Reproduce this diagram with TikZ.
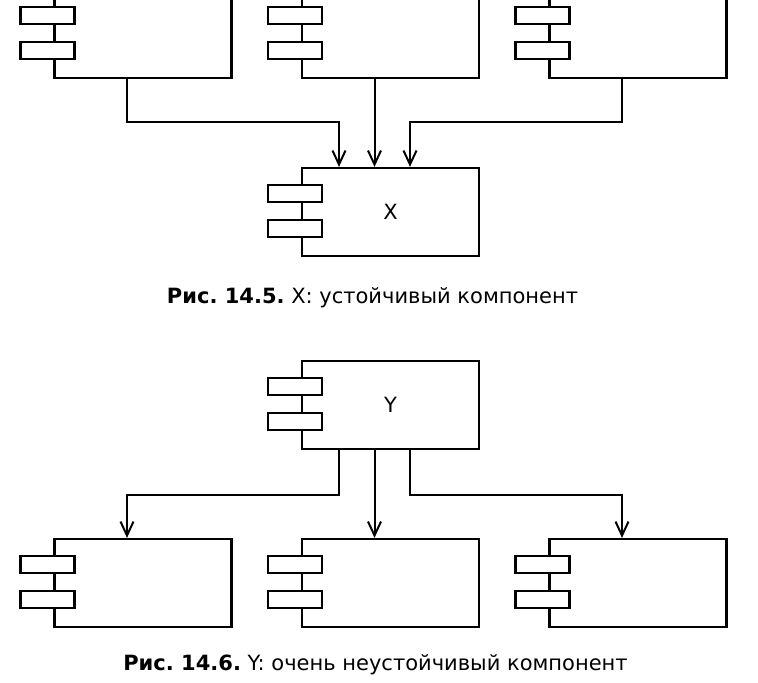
\documentclass[tikz,border=0pt]{standalone}
\usepackage{fontspec}
\setmainfont{DejaVu Sans}
\usetikzlibrary{positioning,arrows.meta}
\frenchspacing

\begin{document}
\begin{tikzpicture}[x=1pt, y=1pt, node distance={178pt},
  >={Straight Barb[length=14pt,width=13pt]},
  comp/.style = {draw, line width=2.2pt, minimum width=177pt, minimum height=88pt, inner sep=0pt, font=\fontsize{21}{24}\selectfont},
  tab/.style = {draw, fill=white, line width=2.2pt},
  conn/.style = {line width=2pt},
  caption/.style = {font=\fontsize{21}{24}\selectfont}]
\useasboundingbox (0,0) rectangle (758,683);

% upper picture
\node[comp] (2) at (390.5,649) {};
\node[comp] (1) [node distance=247.5pt, left of=2] {};
\node[comp] (3) [node distance=247.5pt, right of=2] {};
\node[comp] (X) [below of=2] {X};
\node[caption] (c1) [below of=X, node distance=86pt, xshift=-18pt] {\textbf{Рис. 14.5.} X: устойчивый компонент};

% lower picture
\node[comp] (Y) [below of=X, node distance=193pt] {Y};
\node[comp] (5) [below of=Y] {};
\node[comp] (4) [node distance=247.5pt, left of=5] {};
\node[comp] (6) [node distance=247.5pt, right of=5] {};
\node[caption] (c2) [below of=5, node distance=81.5pt, xshift=-15pt] {\textbf{Рис. 14.6.} Y: очень неустойчивый компонент};

% tabs
\foreach \n in {1,2,3,X,Y,4,5,6} {
  \draw[tab] ([xshift=-33pt,yshift=-18pt]\n.north west) rectangle ++(54,-17);
  \draw[tab] ([xshift=-33pt,yshift=-53pt]\n.north west) rectangle ++(54,-17);
}

\draw[->, conn] ([xshift=-16pt]1.south) |- ([xshift=-51.5pt,yshift=45pt]X.north) -- ([xshift=-51.5pt]X.north);
\draw[->, conn] ([xshift=-16pt]2.south) -- ([xshift=-16pt]X.north);
\draw[->, conn] ([xshift=-16pt]3.south) |- ([xshift=19.5pt,yshift=45pt]X.north) -- ([xshift=19.5pt]X.north);

\draw[->, conn] ([xshift=-51.5pt]Y.south) -- ++(0,-45) -| ([xshift=-16pt]4.north);
\draw[->, conn] ([xshift=-16pt]Y.south) -- ([xshift=-16pt]5.north);
\draw[->, conn] ([xshift=19.5pt]Y.south) -- ++(0,-45) -| ([xshift=-16pt]6.north);
\end{tikzpicture}
\end{document}
